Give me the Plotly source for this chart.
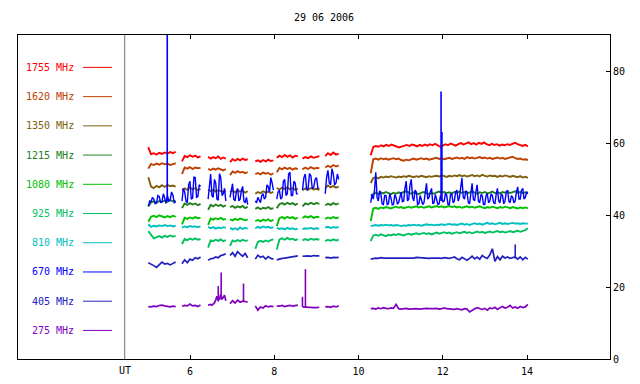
import numpy as np
import plotly.graph_objects as go

TITLE = "29 06 2006"
X_TICKS = [6, 8, 10, 12, 14]
Y_TICKS = [0, 20, 40, 60, 80]

# observation segments (UT hours)
SEG_START = [5.01, 5.81, 6.43, 6.95, 7.55, 8.06, 8.67, 9.21, 10.29]
SEG_END = [5.66, 6.25, 6.85, 7.37, 7.98, 8.56, 9.07, 9.53, 14.02]

LABELS = ["1755 MHz", "1620 MHz", "1350 MHz", "1215 MHz", "1080 MHz",
          "925 MHz", "810 MHz", "670 MHz", "405 MHz", "275 MHz"]
COLORS = ["#ff0000", "#c04000", "#806010", "#208020", "#00c000",
          "#00c060", "#00c0c0", "#0000ff", "#2020c0", "#8000c0"]

S1755 = [
    [59.0, 57.0, 57.3, 56.9, 57.4, 57.1, 57.5, 57.2, 57.6, 57.3, 57.7],
    [55.0, 56.5, 56.2, 56.7, 56.3, 56.6, 56.1, 56.4],
    [56.3, 55.8, 56.2, 55.9, 56.4, 55.7, 56.1, 55.8],
    [54.8, 55.6, 55.2, 55.7, 55.3, 55.8, 55.4, 55.6],
    [55.0, 55.3, 54.9, 55.4, 55.0, 55.5, 55.1, 55.3],
    [56.0, 56.6, 56.2, 56.8, 56.3, 56.7, 56.1, 56.6, 56.4],
    [55.8, 56.2, 55.9, 56.4, 56.0, 56.3, 56.5],
    [56.5, 57.3, 56.8, 57.5, 56.9, 57.2],
    [56.7, 59.0, 59.3, 59.1, 59.5, 59.2, 59.6, 59.3, 59.7, 59.4, 59.2, 58.9, 59.1,
     59.4, 59.6, 59.3, 59.7, 59.5, 59.2, 59.6, 59.3, 59.7, 59.4, 59.8, 59.5, 59.9,
     59.6, 59.1, 59.4, 59.8, 59.5, 60.0, 59.7, 59.4, 59.8, 60.1, 59.7, 59.9, 60.3,
     59.8, 60.1, 59.7, 60.2, 59.9, 60.3, 59.8, 59.5, 59.9, 59.6, 59.8, 59.4, 59.7,
     59.5, 59.8, 59.6, 59.9, 60.2, 59.8, 59.5, 59.3, 59.6, 59.2],
]
S1620 = [
    [53.0, 54.3, 54.0, 54.4, 54.1, 54.5, 54.2, 54.4, 54.0, 54.3, 54.5],
    [51.5, 53.3, 53.0, 53.4, 52.9, 53.3, 53.1, 53.2],
    [52.9, 52.6, 53.0, 52.7, 53.1, 52.8, 52.5, 52.9],
    [51.2, 52.2, 51.8, 52.3, 51.9, 52.1, 51.7, 52.0],
    [51.5, 51.8, 51.4, 51.9, 51.6, 51.8, 51.3, 51.7],
    [52.0, 53.2, 52.8, 53.3, 52.9, 53.2, 52.7, 53.1, 52.9],
    [52.8, 53.3, 52.9, 53.4, 53.0, 53.2, 53.1],
    [53.3, 53.8, 53.4, 54.0, 53.6, 53.9],
    [51.7, 55.6, 55.8, 55.5, 55.9, 55.6, 55.8, 55.5, 55.7, 55.9, 55.6, 55.8, 55.4,
     55.2, 55.5, 55.3, 55.6, 55.8, 55.5, 55.7, 55.9, 55.6, 55.8, 55.5, 55.7, 55.9,
     56.0, 55.7, 55.9, 55.6, 55.8, 56.0, 55.7, 55.9, 56.1, 55.8, 56.0, 55.7, 56.2,
     55.9, 56.1, 55.8, 56.0, 56.2, 55.9, 56.1, 55.8, 56.0, 55.7, 55.9, 56.1, 55.8,
     56.0, 55.7, 55.9, 56.1, 56.3, 55.9, 55.7, 55.8, 55.5, 55.6, 55.4],
]
S1350 = [
    [50.6, 48.0, 47.6, 48.2, 47.8, 48.4, 47.9, 48.5, 48.1, 48.3, 48.0],
    [47.0, 47.5, 47.1, 47.8, 47.2, 47.6, 47.0, 47.4],
    [47.2, 46.7, 47.1, 46.6, 47.0, 46.8, 46.5, 46.9],
    [46.5, 46.9, 46.4, 47.0, 46.6, 46.8, 46.3, 46.7],
    [46.0, 46.5, 46.2, 46.7, 46.3, 46.6, 46.2, 46.5],
    [47.6, 47.2, 47.7, 47.3, 47.8, 47.2, 47.6, 47.1, 47.4],
    [47.0, 47.5, 47.1, 47.6, 47.2, 47.4, 47.0],
    [47.6, 48.3, 47.8, 48.2, 47.7, 48.0],
    [49.0, 50.4, 50.6, 50.3, 50.7, 50.5, 50.8, 50.6, 50.9, 50.7, 50.5, 50.8, 50.6,
     50.9, 50.7, 51.0, 50.8, 50.6, 50.9, 50.7, 51.0, 50.8, 50.6, 50.9, 50.7, 50.9,
     51.0, 50.8, 51.1, 50.9, 50.7, 51.0, 50.8, 51.1, 50.9, 51.2, 50.9, 51.1, 50.8,
     51.0, 51.2, 50.9, 51.1, 50.8, 51.3, 51.0, 50.8, 51.1, 50.9, 51.0, 50.7, 51.0,
     50.8, 51.1, 50.9, 50.7, 51.0, 50.8, 50.6, 50.9, 50.5, 50.7, 50.4],
]
S1215 = [
    [42.5, 43.6, 43.9, 43.5, 44.0, 43.7, 44.1, 43.8, 44.2, 43.9, 44.0],
    [42.0, 43.3, 42.9, 43.4, 43.0, 43.3, 42.8, 43.2],
    [41.5, 42.9, 42.5, 43.0, 42.6, 42.9, 42.4, 42.8],
    [42.3, 42.6, 42.1, 42.5, 42.2, 42.6, 42.0, 42.4],
    [41.8, 42.2, 41.7, 42.1, 41.9, 42.3, 41.8, 42.0],
    [42.0, 43.1, 43.4, 43.0, 43.5, 43.1, 43.4, 42.9, 43.3],
    [42.5, 43.3, 43.0, 43.5, 43.1, 43.4, 43.2],
    [42.8, 43.2, 42.9, 43.4, 43.0, 43.3],
    [45.5, 46.0, 46.3, 45.9, 46.4, 46.1, 46.5, 46.2, 45.9, 46.3, 46.0, 46.4, 46.1,
     46.5, 46.7, 46.3, 46.0, 46.4, 46.2, 45.9, 46.3, 46.5, 46.2, 45.9, 46.3, 46.0,
     46.4, 46.6, 46.3, 46.5, 46.2, 46.4, 46.1, 46.5, 46.3, 46.6, 46.2, 46.5, 46.1,
     46.4, 46.6, 46.3, 46.0, 46.4, 46.2, 46.5, 46.1, 46.3, 46.6, 46.2, 46.4, 46.1,
     46.5, 46.3, 46.6, 46.2, 46.4, 46.7, 46.3, 46.5, 46.2, 46.4, 46.3],
]
S1080 = [
    [38.2, 39.6, 39.9, 39.5, 40.0, 39.7, 39.4, 39.8, 39.5, 39.9, 39.6],
    [37.5, 39.3, 39.0, 39.4, 39.1, 39.5, 39.2, 39.3],
    [37.3, 39.1, 38.8, 39.2, 38.9, 39.3, 38.8, 39.0],
    [38.9, 38.6, 39.0, 38.7, 39.1, 38.8, 38.6, 38.9],
    [38.4, 38.7, 38.3, 38.8, 38.5, 38.9, 38.4, 38.7],
    [37.0, 39.2, 39.5, 39.1, 39.6, 39.2, 39.5, 39.0, 39.4],
    [39.3, 39.7, 39.4, 39.8, 39.3, 39.6, 39.5],
    [39.0, 39.4, 39.1, 39.5, 39.2, 39.4],
    [38.4, 41.9, 42.1, 41.8, 42.2, 42.0, 42.3, 42.1, 41.9, 42.2, 42.4, 42.1, 42.3,
     42.0, 42.2, 42.4, 42.1, 42.3, 42.5, 42.2, 42.4, 42.1, 42.3, 42.5, 42.2, 42.4,
     42.6, 42.3, 42.5, 42.2, 42.4, 42.6, 42.3, 42.5, 42.2, 42.4, 42.1, 42.3, 42.5,
     42.2, 42.4, 42.1, 42.3, 42.5, 42.2, 42.0, 42.3, 42.1, 42.4, 42.2, 42.0, 42.3,
     42.1, 42.4, 42.2, 42.0, 42.3, 42.1, 41.9, 42.2, 42.0, 42.2, 41.9],
]
S925 = [
    [35.6, 34.6, 33.6, 33.9, 34.2, 33.8, 34.3, 34.0, 34.4, 34.1, 34.2],
    [32.0, 33.4, 33.1, 33.5, 33.2, 33.6, 33.2, 33.4],
    [31.0, 33.0, 32.8, 33.2, 32.9, 33.3, 32.8, 33.1],
    [31.5, 33.0, 32.7, 33.1, 32.8, 33.2, 32.9, 33.0],
    [30.7, 32.6, 32.9, 32.6, 33.0, 32.7, 33.1, 33.3],
    [30.5, 33.3, 33.6, 33.2, 33.7, 33.3, 33.5, 33.1, 33.4],
    [33.0, 33.4, 33.1, 33.5, 33.2, 33.4, 33.2],
    [32.8, 33.2, 32.9, 33.3, 33.0, 33.2],
    [32.8, 34.4, 34.6, 34.3, 34.7, 34.5, 34.2, 34.6, 34.4, 34.7, 34.5, 34.8, 34.6,
     34.4, 34.7, 34.9, 34.6, 34.8, 35.0, 34.7, 34.9, 35.1, 34.8, 35.0, 34.7, 35.0,
     35.2, 34.9, 35.1, 35.3, 35.0, 35.2, 34.9, 35.1, 35.3, 35.0, 35.2, 35.4, 35.1,
     35.3, 35.0, 35.2, 35.5, 35.2, 35.4, 35.1, 35.3, 35.5, 35.2, 35.4, 35.6, 35.3,
     35.5, 35.2, 35.4, 35.6, 35.3, 35.5, 35.7, 35.4, 35.6, 35.9, 36.4],
]
S810 = [
    [37.5, 36.8, 37.1, 36.9, 37.2, 37.0, 37.3, 37.0, 37.2, 36.9, 37.1],
    [36.6, 36.9, 36.7, 37.0, 36.8, 36.9, 36.7, 36.9],
    [36.8, 36.4, 36.7, 36.3, 36.6, 36.4, 36.7, 36.5],
    [36.5, 36.1, 36.4, 36.0, 36.6, 36.2, 36.5, 36.3],
    [36.4, 36.8, 36.5, 36.9, 36.6, 36.8, 36.5, 36.7],
    [36.5, 36.2, 36.4, 36.1, 36.5, 36.2, 36.4, 36.1, 36.3],
    [36.2, 36.4, 36.3, 36.5, 36.2, 36.4, 36.3],
    [36.6, 36.8, 36.5, 36.7, 36.6, 36.7],
    [37.0, 37.2, 37.3, 37.1, 37.3, 37.2, 37.4, 37.2, 37.3, 37.1, 37.3, 37.2, 37.0,
     37.2, 37.1, 37.3, 37.2, 37.4, 37.2, 37.3, 37.1, 37.3, 37.5, 37.3, 37.4, 37.2,
     37.4, 37.3, 37.5, 37.3, 37.4, 37.6, 37.4, 37.5, 37.3, 37.5, 37.7, 37.4, 37.6,
     37.3, 37.6, 37.8, 37.5, 37.7, 37.4, 37.7, 37.9, 37.6, 37.8, 37.5, 37.7, 37.9,
     37.6, 37.8, 37.6, 37.7, 37.9, 37.7, 37.8, 37.6, 37.8, 37.7, 37.7],
]
S670 = [
    [42.5, 44.0, 43.8, 45.0, 44.5, 43.2, 43.4, 45.5, 45.2, 43.5, 43.9, 46.0, 44.8,
     43.3, 45.5, 44.0, 44.2, 46.5, 45.6, 43.5, 43.8],
    [44.0, 47.5, 46.5, 44.0, 43.5, 48.5, 49.5, 44.5, 44.8, 50.6, 50.5, 45.0, 45.2,
     48.5, 48.0],
    [44.5, 49.0, 51.5, 45.5, 45.0, 50.0, 49.0, 44.5, 44.2, 51.6, 50.5, 45.5, 46.0,
     47.5, 44.0],
    [45.0, 47.0, 48.8, 44.5, 44.0, 46.5, 47.5, 44.0, 44.5, 47.0, 48.0, 44.0, 43.5,
     45.0, 43.0],
    [44.0, 43.5, 45.0, 44.0, 43.5, 45.5, 46.0, 44.5, 45.0, 48.5, 48.0, 46.5, 50.5,
     49.0, 47.0],
    [44.5, 46.5, 47.0, 44.5, 45.0, 49.5, 50.0, 45.5, 46.0, 51.5, 52.0, 45.5, 45.5,
     49.5, 49.0, 46.0, 46.0],
    [47.0, 50.5, 51.5, 47.0, 47.5, 51.6, 51.0, 47.4, 47.8, 50.0, 50.5, 47.5, 47.5],
    [46.0, 50.5, 52.5, 49.0, 48.5, 53.0, 51.5, 48.5, 49.0, 51.5, 50.0],
    [43.5, 45.8, 44.5, 47.0, 52.0, 45.0, 44.0, 46.8, 46.0, 43.2, 43.0, 45.5, 45.5,
     43.0, 43.2, 46.0, 44.8, 42.9, 43.0, 45.8, 45.0, 43.2, 43.5, 45.0, 46.5, 43.8,
     44.0, 47.5, 49.5, 44.0, 44.5, 48.5, 50.0, 45.0, 44.0, 47.0, 46.5, 43.0, 43.2,
     45.5, 44.5, 43.0, 43.5, 46.0, 48.9, 44.5, 45.0, 46.5, 47.5, 43.2, 43.5, 45.8,
     44.5, 43.0, 43.2, 45.5, 44.5, 43.8, 44.0, 46.2, 45.5, 43.0, 43.0, 45.8, 46.0,
     43.5, 44.0, 46.5, 47.0, 44.0, 45.0, 47.5, 50.4, 45.0, 44.5, 46.8, 46.5, 43.5,
     43.2, 46.0, 48.9, 44.5, 44.0, 46.5, 48.5, 44.0, 43.5, 45.8, 45.5, 43.0, 43.0,
     45.5, 46.0, 43.5, 44.0, 46.0, 45.5, 43.5, 43.2, 45.8, 47.5, 44.0, 43.5, 46.0,
     45.5, 43.2, 44.0, 46.5, 47.0, 44.0, 43.5, 45.5, 45.0, 43.5, 44.0, 46.5, 47.9,
     44.5, 44.5, 47.0, 47.5, 44.5, 45.0, 46.5, 46.0],
]
S405 = [
    [26.8, 26.5, 26.0, 25.5, 26.2, 27.0, 26.4, 26.6, 26.2, 26.5, 27.0],
    [26.5, 27.6, 26.8, 27.8, 27.5, 28.2, 27.9, 28.4],
    [27.5, 27.9, 28.0, 28.4, 28.2, 28.8, 29.0, 29.3],
    [28.8, 29.6, 28.6, 29.9, 29.2, 28.6, 29.4, 28.2],
    [27.8, 28.9, 28.3, 28.6, 27.8, 28.5, 28.0, 27.8],
    [27.6, 27.9, 28.0, 28.1, 28.2, 28.2, 28.4, 28.5, 28.7],
    [28.6, 28.7, 28.7, 28.6, 28.8, 28.7, 28.7],
    [28.2, 28.3, 28.1, 28.3, 28.2, 28.3],
    [27.8, 28.0, 28.1, 28.0, 28.2, 28.1, 28.1, 28.0, 28.2, 28.1, 28.1, 28.0, 28.1,
     28.2, 28.1, 28.1, 28.0, 28.1, 28.3, 28.2, 28.1, 28.2, 28.1, 28.0, 28.1, 28.2,
     28.1, 28.1, 28.0, 28.2, 28.1, 28.0, 28.2, 28.4, 27.9, 27.6, 28.3, 28.0, 27.5,
     28.0, 28.6, 27.9, 28.4, 27.8, 28.8, 28.3, 28.0, 29.0, 30.7, 27.2, 28.5, 27.6,
     28.6, 28.1, 28.4, 28.0, 28.3, 28.4, 27.8, 28.4, 27.6, 28.3, 27.8],
]
S275 = [
    [14.6, 14.5, 14.7, 14.6, 14.9, 15.0, 14.8, 14.6, 14.5, 14.7, 14.6],
    [14.7, 14.9, 14.8, 15.3, 14.8, 14.9, 14.6, 15.0],
    [15.0, 15.1, 15.2, 15.0, 15.4, 15.6, 16.4, 17.5, 16.3, 16.8, 18.0, 16.6, 17.2, 17.8, 16.2],
    [15.4, 16.2, 15.6, 16.4, 15.8, 16.1, 16.0, 15.8],
    [14.8, 13.6, 14.5, 14.2, 14.8, 14.5, 14.7, 14.6],
    [14.8, 14.7, 14.9, 14.6, 14.8, 14.9, 14.7, 14.8, 15.0],
    [14.5, 14.4, 14.3, 14.4, 14.3, 14.3, 14.4],
    [14.5, 14.6, 14.4, 14.7, 14.5, 14.8],
    [14.0, 14.1, 13.9, 14.2, 14.0, 14.3, 14.1, 14.0, 14.2, 14.1, 15.2, 14.0, 13.9,
     14.0, 14.1, 13.9, 14.0, 14.1, 14.0, 13.9, 14.0, 13.9, 14.1, 14.0, 13.9, 14.0,
     14.1, 13.9, 14.0, 14.2, 14.0, 13.9, 14.0, 13.8, 14.0, 13.9, 13.7, 14.0, 13.9,
     13.1, 13.6, 14.0, 14.3, 14.0, 13.8, 14.1, 13.6, 14.2, 14.0, 14.4, 13.8, 14.3,
     14.6, 14.2, 14.4, 14.9, 14.2, 14.5, 14.1, 14.6, 14.3, 14.5, 15.2],
]

# single-sample bursts: (series index, UT time, base value, peak value)
BURST_SERIES = [7, 7, 7, 8, 9, 9, 9, 9, 9]
BURST_T = [5.46, 11.96, 11.98, 13.72, 6.67, 6.74, 7.27, 8.67, 8.74]
BURST_LO = [44.0, 44.0, 44.0, 28.0, 16.0, 16.5, 16.0, 14.5, 14.3]
BURST_HI = [200.0, 74.5, 63.2, 31.9, 20.3, 24.1, 21.0, 17.3, 25.0]

SERIES = [S1755, S1620, S1350, S1215, S1080, S925, S810, S670, S405, S275]
WIDTHS = [1.9, 1.9, 1.9, 1.9, 1.9, 1.9, 1.9, 1.4, 1.7, 1.7]

FONT = "DejaVu Sans Mono"

fig = go.Figure()

for idx, (name, color, segs) in enumerate(zip(LABELS, COLORS, SERIES)):
    xs, ys = [], []
    for s0, s1, vals in zip(SEG_START, SEG_END, segs):
        t = np.linspace(s0, s1, len(vals))
        xs.extend(t.tolist())
        ys.extend(vals)
        xs.append(None)
        ys.append(None)
    fig.add_trace(go.Scatter(x=xs, y=ys, mode="lines", name=name,
                             line=dict(color=color, width=WIDTHS[idx]),
                             connectgaps=False, showlegend=False))
    bx, by = [], []
    for si, bt, lo, hi in zip(BURST_SERIES, BURST_T, BURST_LO, BURST_HI):
        if si == idx:
            bx.extend([bt, bt, None])
            by.extend([lo, hi, None])
    if bx:
        fig.add_trace(go.Scatter(x=bx, y=by, mode="lines", name=name,
                                 line=dict(color=color, width=1.6),
                                 showlegend=False))

# legend drawn on the left side of the frame
for i, (name, color) in enumerate(zip(LABELS, COLORS)):
    yp = 0.9 - 0.0902 * i
    fig.add_annotation(x=0.098, y=yp, xref="paper", yref="paper", text=name,
                       showarrow=False, xanchor="right", yanchor="middle",
                       font=dict(family=FONT, size=10, color=color))
    fig.add_shape(type="line", xref="paper", yref="paper", x0=0.1098, x1=0.1588,
                  y0=yp, y1=yp, line=dict(color=color, width=1))

# UT separator line
fig.add_shape(type="line", xref="x", yref="paper", x0=4.45, x1=4.45, y0=0, y1=1,
              line=dict(color="#707070", width=1))
fig.add_annotation(x=4.45, y=-0.034, xref="x", yref="paper", text="UT",
                   showarrow=False, xanchor="center", yanchor="middle",
                   font=dict(family=FONT, size=10, color="black"))

fig.update_layout(
    width=632, height=376,
    margin=dict(l=10, r=30, t=27, b=25),
    paper_bgcolor="white", plot_bgcolor="white",
    title=dict(text=TITLE, x=0.5, xanchor="center", y=0.976, yanchor="middle",
               font=dict(family=FONT, size=10, color="black")),
    font=dict(family=FONT, size=10, color="black"),
    xaxis=dict(range=[1.917, 15.97], tickvals=X_TICKS, ticktext=[str(v) for v in X_TICKS],
               ticks="inside", ticklen=4, tickcolor="black", showline=True,
               linecolor="black", linewidth=1, mirror="ticks", showgrid=False,
               zeroline=False, automargin=False, ticklabelstandoff=3),
    yaxis=dict(range=[0, 90.2], tickvals=Y_TICKS, side="right",
               ticks="inside", ticklen=4, tickcolor="black", showline=True,
               linecolor="black", linewidth=1, mirror=True, showgrid=False,
               zeroline=False, automargin=False),
)

fig.write_html("out.html")
